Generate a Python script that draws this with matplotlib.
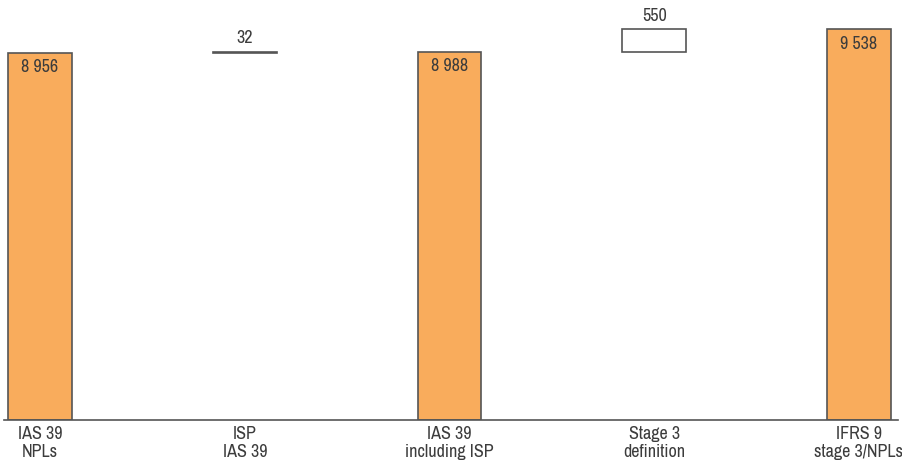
import matplotlib
matplotlib.use("Agg")
from matplotlib import pyplot as plt
import numpy as np

# pasos del puente IAS 39 -> IFRS 9
categorias = ["IAS 39\nNPLs", "ISP\nIAS 39", "IAS 39\nincluding ISP", "Stage 3\ndefinition", "IFRS 9\nstage 3/NPLs"]
valores = [8956, 32, 8988, 550, 9538]
es_total = [True, False, True, False, True]
etiquetas = ["8 956", "32", "8 988", "550", "9 538"]

naranja = "#F9AC5C"
borde = "#555555"
texto = "#3c3c3c"

plt.rcParams['font.family'] = ['Archivo Narrow', 'DejaVu Sans']

fig = plt.figure(figsize=(9.03, 4.65), dpi=100)
ax = fig.add_axes([0, 45 / 465, 1, 420 / 465])

x = np.arange(len(valores))
ancho = 0.3125

# base de cada barra: totales desde cero, variaciones desde el acumulado
bases = []
acumulado = 0
for v, total in zip(valores, es_total):
	if total:
		bases.append(0)
		acumulado = v
	else:
		bases.append(acumulado)
		acumulado += v

for i in range(len(valores)):
	color = naranja if es_total[i] else "white"
	ax.bar(x[i], valores[i], bottom=bases[i], width=ancho, color=color,
		edgecolor=borde, linewidth=1.2)
	arriba = bases[i] + valores[i]
	if es_total[i]:
		ax.annotate(etiquetas[i], (x[i], arriba), xytext=(0, -10.5), textcoords="offset points",
			ha="center", va="center", fontsize=13, color=texto)
	else:
		ax.annotate(etiquetas[i], (x[i], arriba), xytext=(0, 9.5), textcoords="offset points",
			ha="center", va="center", fontsize=13, color=texto)

ax.set_xlim(-0.1954, 4.215)
ax.set_ylim(0, 10245)
ax.set_xticks(x)
ax.set_xticklabels(categorias, fontsize=13, color=texto, linespacing=1.15)
ax.tick_params(axis="x", length=0, pad=4)
ax.set_yticks([])
for lado in ["top", "right", "left"]:
	ax.spines[lado].set_visible(False)
ax.spines["bottom"].set_color(borde)
ax.spines["bottom"].set_linewidth(1.2)
ax.spines["bottom"].set_bounds(-0.176, 4.19)

fig.savefig("out.png", dpi=100)
